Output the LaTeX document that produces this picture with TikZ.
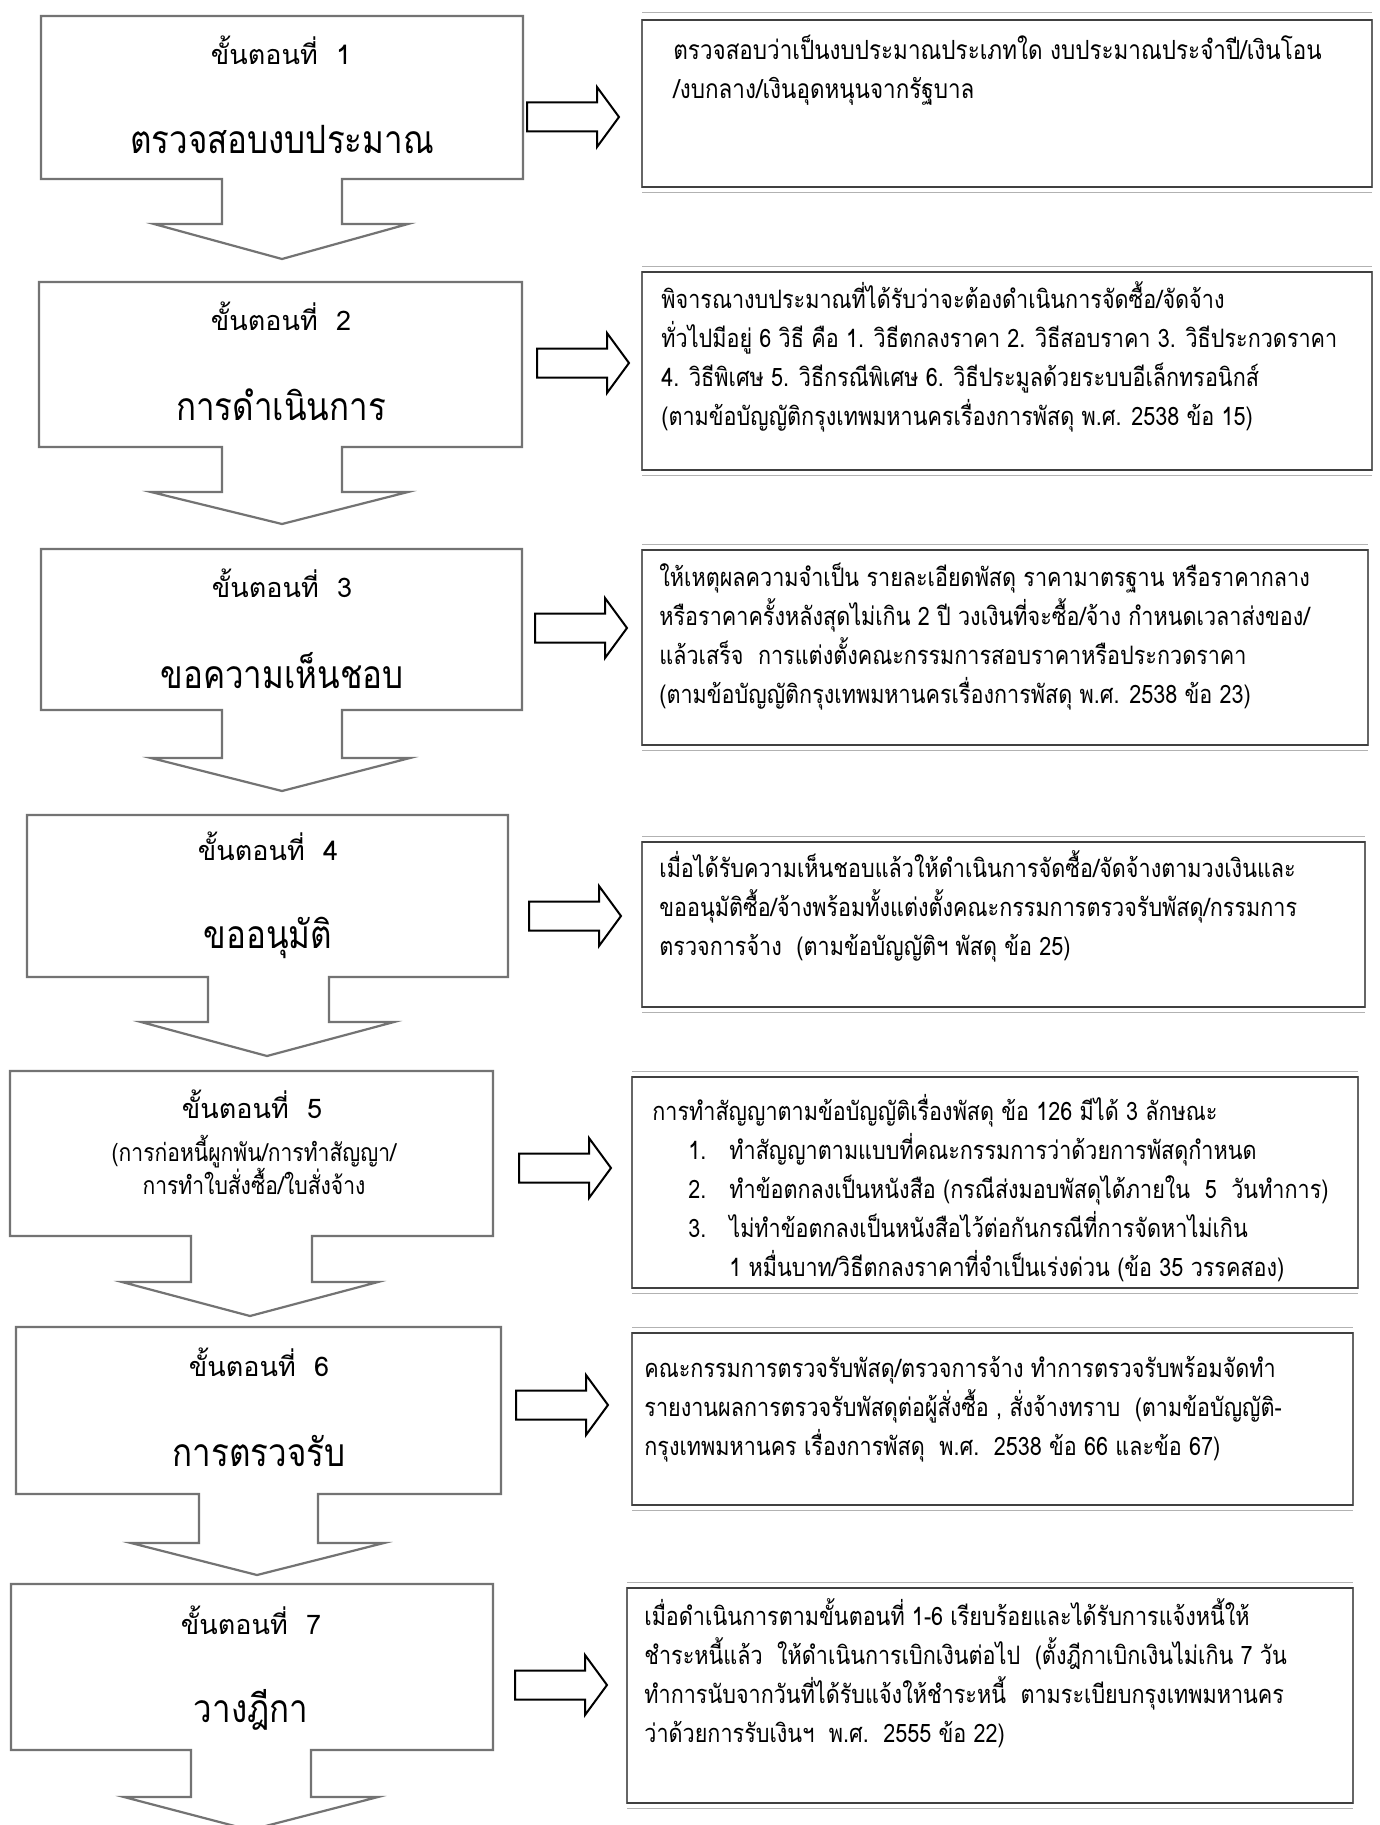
\documentclass[tikz,border=0pt]{standalone}
\usepackage{fontspec}
\setmainfont{Loma}[Script=Thai]
\newfontfamily\thainarrow{Loma}[Script=Thai,FakeStretch=0.85]
\usetikzlibrary{calc}

\tikzset{
  stepline/.style={draw=black!55, line width=1.1pt, line join=miter},
  infoline/.style={draw=black!60, line width=0.7pt},
  infoedge/.style={draw=black!75, line width=1.3pt},
  infofaint/.style={draw=black!30, line width=0.5pt},
  steptitle/.style={font=\fontsize{13.5}{16}\selectfont, inner sep=0pt},
  stepmain/.style={font=\thainarrow\fontsize{19.5}{22}\selectfont, inner sep=0pt},
  stepsub/.style={font=\thainarrow\fontsize{12.4}{16.5}\selectfont, align=center, inner sep=0pt},
  % base of a multi-line node = baseline of its last line
  infotext/.style={font=\thainarrow\fontsize{12.7}{19.5}\selectfont, align=left, anchor=base west, inner sep=0pt},
  sidearrow/.pic={\draw[black, line width=1pt, line join=miter] (0,-14.5) -- (70,-14.5) -- (70,-30) -- (92,0) -- (70,30) -- (70,14.5) -- (0,14.5) -- cycle;}
}

\begin{document}
\begin{tikzpicture}[x=0.5pt,y=-0.5pt]
        %PAGE
        \fill[white] (0,0) rectangle (1380,1825);
        \clip (0,0) rectangle (1380,1825);
        %STEP BOXES
        \draw[stepline] (41,16) -- (523,16) -- (523,179) -- (342,179) -- (342,224) -- (408,224) -- (282,259) -- (154,224) -- (222,224) -- (222,179) -- (41,179) -- cycle;
        \draw[stepline] (39,282) -- (522,282) -- (522,447) -- (342,447) -- (342,492) -- (408,492) -- (282,524) -- (151,492) -- (222,492) -- (222,447) -- (39,447) -- cycle;
        \draw[stepline] (41,549) -- (522,549) -- (522,710) -- (342,710) -- (342,758) -- (410,758) -- (282,791) -- (151,758) -- (222,758) -- (222,710) -- (41,710) -- cycle;
        \draw[stepline] (27,815) -- (508,815) -- (508,977) -- (329,977) -- (329,1022) -- (394,1022) -- (267,1056) -- (141,1022) -- (208,1022) -- (208,977) -- (27,977) -- cycle;
        \draw[stepline] (10,1071) -- (493,1071) -- (493,1236) -- (312,1236) -- (312,1282) -- (378,1282) -- (250,1316) -- (122,1282) -- (191,1282) -- (191,1236) -- (10,1236) -- cycle;
        \draw[stepline] (16,1327) -- (501,1327) -- (501,1494) -- (318,1494) -- (318,1543) -- (384,1543) -- (257,1575) -- (131,1543) -- (199,1543) -- (199,1494) -- (16,1494) -- cycle;
        \draw[stepline] (11,1584) -- (493,1584) -- (493,1750) -- (311,1750) -- (311,1797) -- (378,1797) -- (250,1830) -- (124,1797) -- (191,1797) -- (191,1750) -- (11,1750) -- cycle;
        %STEP TEXTS
        \node[steptitle] (t1) at (281,50) {ขั้นตอนที่\ \ 1};
        \node[stepmain] (m1) at (282,140) {ตรวจสอบงบประมาณ};
        \node[steptitle] (t2) at (281,316) {ขั้นตอนที่\ \ 2};
        \node[stepmain] (m2) at (281,405) {การดำเนินการ};
        \node[steptitle] (t3) at (282,583) {ขั้นตอนที่\ \ 3};
        \node[stepmain] (m3) at (282,671) {ขอความเห็นชอบ};
        \node[steptitle] (t4) at (268,846) {ขั้นตอนที่\ \ 4};
        \node[stepmain] (m4) at (268,938) {ขออนุมัติ};
        \node[steptitle] (t5) at (252,1104) {ขั้นตอนที่\ \ 5};
        \node[stepsub] (s5) at (254,1165) {(การก่อหนี้ผูกพัน/การทำสัญญา/\\การทำใบสั่งซื้อ/ใบสั่งจ้าง};
        \node[steptitle] (t6) at (259,1362) {ขั้นตอนที่\ \ 6};
        \node[stepmain] (m6) at (259,1451) {การตรวจรับ};
        \node[steptitle] (t7) at (251,1620) {ขั้นตอนที่\ \ 7};
        \node[stepmain] (m7) at (251,1710) {วางฎีกา};
        %SIDE ARROWS
        \pic at (527,117) {sidearrow};
        \pic at (537,363) {sidearrow};
        \pic at (535,628) {sidearrow};
        \pic at (529,916) {sidearrow};
        \pic at (519,1168) {sidearrow};
        \pic at (516,1405) {sidearrow};
        \pic at (515,1685) {sidearrow};
        %INFO BOXES
        \draw[infoline] (642,20) rectangle (1372,187);
        \draw[infoedge] (642,20) -- (1372,20) (642,187) -- (1372,187);
        \draw[infofaint] (642,13) -- (1372,13) (642,192) -- (1372,192);
        \draw[infoline] (642,272) rectangle (1372,470);
        \draw[infoedge] (642,272) -- (1372,272) (642,470) -- (1372,470);
        \draw[infofaint] (642,266) -- (1372,266) (642,475) -- (1372,475);
        \draw[infoline] (642,550) rectangle (1368,745);
        \draw[infoedge] (642,550) -- (1368,550) (642,745) -- (1368,745);
        \draw[infofaint] (642,544) -- (1368,544) (642,750) -- (1368,750);
        \draw[infoline] (642,842) rectangle (1365,1007);
        \draw[infoedge] (642,842) -- (1365,842) (642,1007) -- (1365,1007);
        \draw[infofaint] (642,836) -- (1365,836) (642,1012) -- (1365,1012);
        \draw[infoline] (632,1077) rectangle (1358,1288);
        \draw[infoedge] (632,1077) -- (1358,1077) (632,1288) -- (1358,1288);
        \draw[infofaint] (632,1071) -- (1358,1071) (632,1293) -- (1358,1293);
        \draw[infoline] (632,1333) rectangle (1353,1505);
        \draw[infoedge] (632,1333) -- (1353,1333) (632,1505) -- (1353,1505);
        \draw[infofaint] (632,1327) -- (1353,1327) (632,1510) -- (1353,1510);
        \draw[infoline] (627,1588) rectangle (1353,1803);
        \draw[infoedge] (627,1588) -- (1353,1588) (627,1803) -- (1353,1803);
        \draw[infofaint] (627,1582) -- (1353,1582) (627,1808) -- (1353,1808);
        %INFO TEXTS
        \node[infotext, font=\thainarrow\fontsize{13.2}{19.5}\selectfont] (i1) at (673,98) {ตรวจสอบว่าเป็นงบประมาณประเภทใด งบประมาณประจำปี/เงินโอน\\/งบกลาง/เงินอุดหนุนจากรัฐบาล};
        \node[infotext] (i2) at (661,425) {พิจารณางบประมาณที่ได้รับว่าจะต้องดำเนินการจัดซื้อ/จัดจ้าง\\ทั่วไปมีอยู่ 6 วิธี คือ 1. วิธีตกลงราคา 2. วิธีสอบราคา 3. วิธีประกวดราคา\\4. วิธีพิเศษ 5. วิธีกรณีพิเศษ 6. วิธีประมูลด้วยระบบอีเล็กทรอนิกส์\\(ตามข้อบัญญัติกรุงเทพมหานครเรื่องการพัสดุ พ.ศ. 2538 ข้อ 15)};
        \node[infotext] (i3) at (659,703) {ให้เหตุผลความจำเป็น รายละเอียดพัสดุ ราคามาตรฐาน หรือราคากลาง\\หรือราคาครั้งหลังสุดไม่เกิน 2 ปี วงเงินที่จะซื้อ/จ้าง กำหนดเวลาส่งของ/\\แล้วเสร็จ\ \ การแต่งตั้งคณะกรรมการสอบราคาหรือประกวดราคา\\(ตามข้อบัญญัติกรุงเทพมหานครเรื่องการพัสดุ พ.ศ. 2538 ข้อ 23)};
        \node[infotext] (i4) at (659,955) {เมื่อได้รับความเห็นชอบแล้วให้ดำเนินการจัดซื้อ/จัดจ้างตามวงเงินและ\\ขออนุมัติซื้อ/จ้างพร้อมทั้งแต่งตั้งคณะกรรมการตรวจรับพัสดุ/กรรมการ\\ตรวจการจ้าง\ \ (ตามข้อบัญญัติฯ พัสดุ ข้อ 25)};
        \node[infotext] (i5) at (652,1276) {การทำสัญญาตามข้อบัญญัติเรื่องพัสดุ ข้อ 126 มีได้ 3 ลักษณะ\\
          \hspace*{18pt}\makebox[20.5pt][l]{1.}ทำสัญญาตามแบบที่คณะกรรมการว่าด้วยการพัสดุกำหนด\\
          \hspace*{18pt}\makebox[20.5pt][l]{2.}ทำข้อตกลงเป็นหนังสือ (กรณีส่งมอบพัสดุได้ภายใน\ \ 5\ \ วันทำการ)\\
          \hspace*{18pt}\makebox[20.5pt][l]{3.}ไม่ทำข้อตกลงเป็นหนังสือไว้ต่อกันกรณีที่การจัดหาไม่เกิน\\
          \hspace*{38.5pt}1 หมื่นบาท/วิธีตกลงราคาที่จำเป็นเร่งด่วน (ข้อ 35 วรรคสอง)};
        \node[infotext] (i6) at (644,1455) {คณะกรรมการตรวจรับพัสดุ/ตรวจการจ้าง ทำการตรวจรับพร้อมจัดทำ\\รายงานผลการตรวจรับพัสดุต่อผู้สั่งซื้อ , สั่งจ้างทราบ\ \ (ตามข้อบัญญัติ-\\กรุงเทพมหานคร เรื่องการพัสดุ\ \ พ.ศ.\ \ 2538 ข้อ 66 และข้อ 67)};
        \node[infotext] (i7) at (644,1742) {เมื่อดำเนินการตามขั้นตอนที่ 1-6 เรียบร้อยและได้รับการแจ้งหนี้ให้\\ชำระหนี้แล้ว\ \ ให้ดำเนินการเบิกเงินต่อไป\ \ (ตั้งฎีกาเบิกเงินไม่เกิน 7 วัน\\ทำการนับจากวันที่ได้รับแจ้งให้ชำระหนี้\ \ ตามระเบียบกรุงเทพมหานคร\\ว่าด้วยการรับเงินฯ\ \ พ.ศ.\ \ 2555 ข้อ 22)};
\end{tikzpicture}
\end{document}
